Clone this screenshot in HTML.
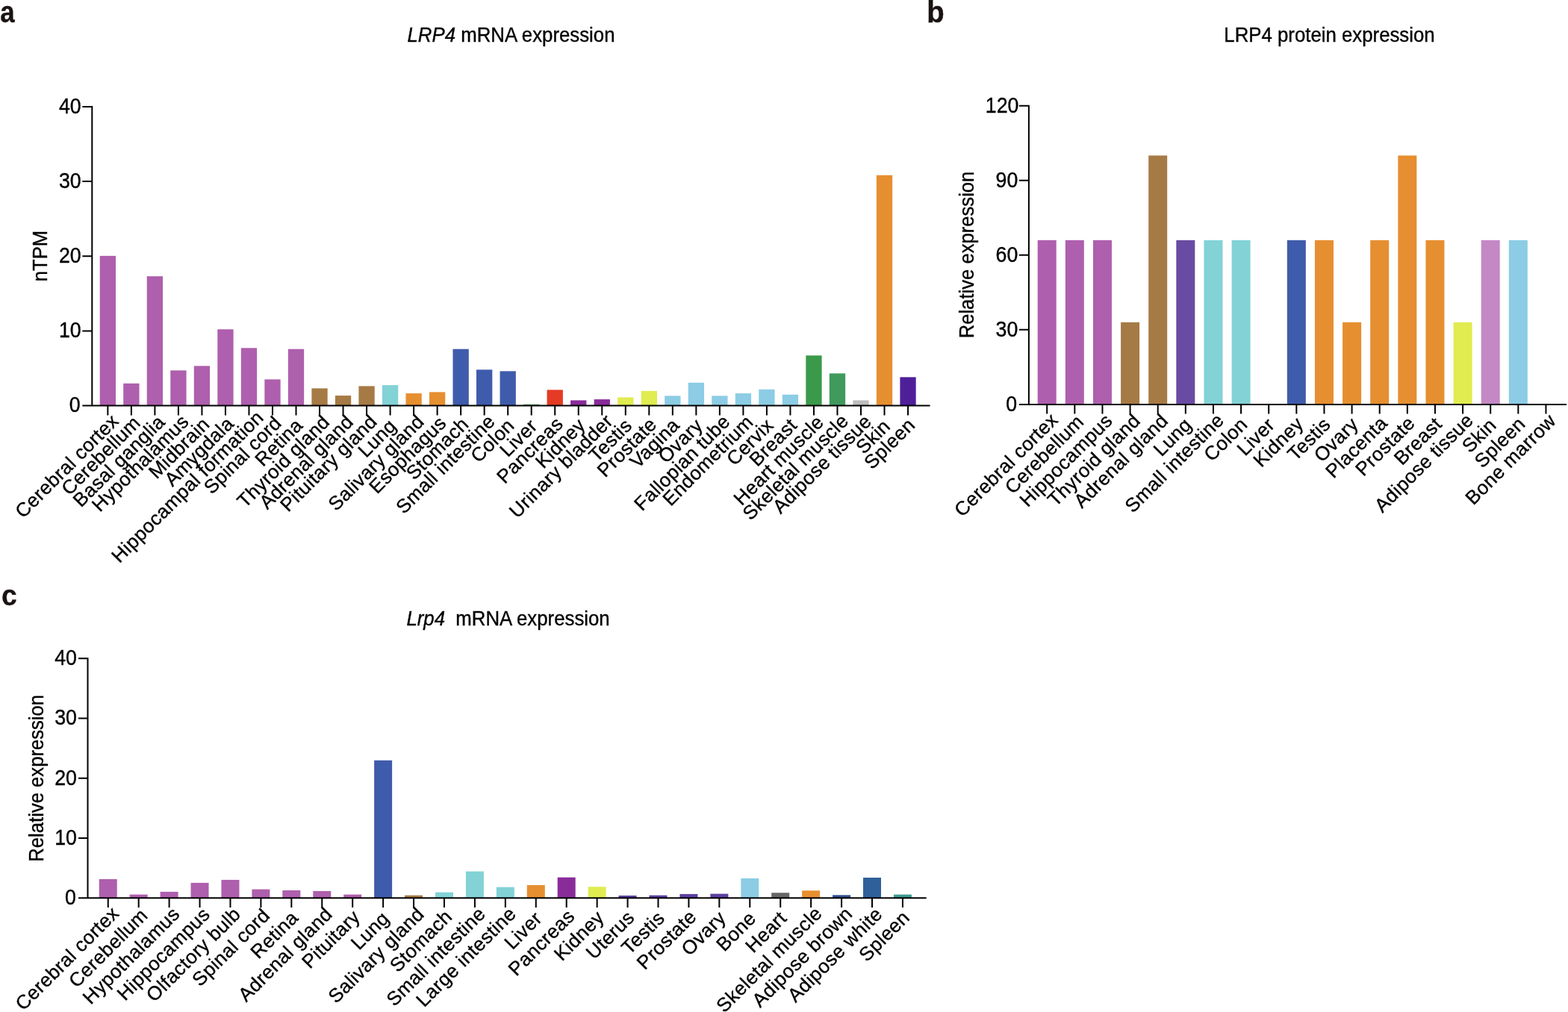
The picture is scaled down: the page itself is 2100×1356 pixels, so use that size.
<!DOCTYPE html>
<html lang="en">
<head>
<meta charset="utf-8">
<title>LRP4 expression</title>
<style>
html,body{margin:0;padding:0;background:#fff;}
body{width:2100px;height:1356px;overflow:hidden;}
svg{display:block;}
text{font-family:"Liberation Sans",sans-serif;font-size:25.8px;fill:#000;stroke:#000;stroke-width:0.35px;}
.xl{font-size:25.9px;letter-spacing:0.42px;}
.nl{font-size:26.7px;}
.yl{font-size:25.65px;}
.pl{font-weight:bold;font-size:34.9px;fill:#1a1311;stroke:#1a1311;stroke-width:0.3px;}
</style>
</head>
<body>
<svg width="2100" height="1356" viewBox="0 0 2100 1356">
<rect width="2100" height="1356" fill="#fff"/>
<text class="pl" transform="translate(0.2 30.1) scale(1 1.14)">a</text>
<text class="pl" transform="translate(1241.35 30.1) scale(1.1 1.16)">b</text>
<text class="pl" transform="translate(2.05 811.3) scale(1.065 1.126)">c</text>
<g>
<rect x="133.70" y="342.85" width="21.3" height="200.65" fill="#AE5FAD"/>
<rect x="165.22" y="513.76" width="21.3" height="29.74" fill="#AE5FAD"/>
<rect x="196.74" y="370.18" width="21.3" height="173.32" fill="#AE5FAD"/>
<rect x="228.26" y="496.34" width="21.3" height="47.16" fill="#AE5FAD"/>
<rect x="259.78" y="490.33" width="21.3" height="53.17" fill="#AE5FAD"/>
<rect x="291.30" y="441.27" width="21.3" height="102.23" fill="#AE5FAD"/>
<rect x="322.82" y="466.30" width="21.3" height="77.20" fill="#AE5FAD"/>
<rect x="354.34" y="508.36" width="21.3" height="35.14" fill="#AE5FAD"/>
<rect x="385.86" y="467.71" width="21.3" height="75.79" fill="#AE5FAD"/>
<rect x="417.38" y="520.37" width="21.3" height="23.13" fill="#A67A45"/>
<rect x="448.90" y="530.08" width="21.3" height="13.42" fill="#A67A45"/>
<rect x="480.42" y="517.37" width="21.3" height="26.13" fill="#A67A45"/>
<rect x="511.94" y="516.07" width="21.3" height="27.43" fill="#82D2D6"/>
<rect x="543.46" y="527.08" width="21.3" height="16.42" fill="#E68F30"/>
<rect x="574.98" y="525.38" width="21.3" height="18.12" fill="#E68F30"/>
<rect x="606.50" y="467.71" width="21.3" height="75.79" fill="#3F5BAB"/>
<rect x="638.02" y="495.34" width="21.3" height="48.16" fill="#3F5BAB"/>
<rect x="669.54" y="497.34" width="21.3" height="46.16" fill="#3F5BAB"/>
<rect x="701.06" y="541.80" width="21.3" height="1.70" fill="#3A9A4A"/>
<rect x="732.58" y="522.37" width="21.3" height="21.13" fill="#E53A24"/>
<rect x="764.10" y="536.39" width="21.3" height="7.11" fill="#8A2B9A"/>
<rect x="795.62" y="535.09" width="21.3" height="8.41" fill="#8A2B9A"/>
<rect x="827.14" y="532.39" width="21.3" height="11.11" fill="#E0EC50"/>
<rect x="858.66" y="523.78" width="21.3" height="19.72" fill="#E0EC50"/>
<rect x="890.18" y="530.38" width="21.3" height="13.12" fill="#8CCCE4"/>
<rect x="921.70" y="512.76" width="21.3" height="30.74" fill="#8CCCE4"/>
<rect x="953.22" y="530.38" width="21.3" height="13.12" fill="#8CCCE4"/>
<rect x="984.74" y="527.08" width="21.3" height="16.42" fill="#8CCCE4"/>
<rect x="1016.26" y="521.77" width="21.3" height="21.73" fill="#8CCCE4"/>
<rect x="1047.78" y="528.78" width="21.3" height="14.72" fill="#8CCCE4"/>
<rect x="1079.30" y="476.32" width="21.3" height="67.18" fill="#3A9A4A"/>
<rect x="1110.82" y="500.35" width="21.3" height="43.15" fill="#3F9A5C"/>
<rect x="1142.34" y="536.39" width="21.3" height="7.11" fill="#BDBDBD"/>
<rect x="1173.86" y="234.72" width="21.3" height="308.78" fill="#E68F30"/>
<rect x="1205.38" y="505.35" width="21.3" height="38.15" fill="#4F1F9A"/>
<path d="M123.30 142.00V543.50M110.35 543.50H1245.60M110.35 443.38H123.30M110.35 343.25H123.30M110.35 243.12H123.30M110.35 143.00H123.30M144.35 543.50V556.60M175.87 543.50V556.60M207.39 543.50V556.60M238.91 543.50V556.60M270.43 543.50V556.60M301.95 543.50V556.60M333.47 543.50V556.60M364.99 543.50V556.60M396.51 543.50V556.60M428.03 543.50V556.60M459.55 543.50V556.60M491.07 543.50V556.60M522.59 543.50V556.60M554.11 543.50V556.60M585.63 543.50V556.60M617.15 543.50V556.60M648.67 543.50V556.60M680.19 543.50V556.60M711.71 543.50V556.60M743.23 543.50V556.60M774.75 543.50V556.60M806.27 543.50V556.60M837.79 543.50V556.60M869.31 543.50V556.60M900.83 543.50V556.60M932.35 543.50V556.60M963.87 543.50V556.60M995.39 543.50V556.60M1026.91 543.50V556.60M1058.43 543.50V556.60M1089.95 543.50V556.60M1121.47 543.50V556.60M1152.99 543.50V556.60M1184.51 543.50V556.60M1216.03 543.50V556.60" fill="none" stroke="#000" stroke-width="2.0"/>
<text transform="translate(107.56 552.30) scale(1 1.07)" text-anchor="end" class="nl">0</text>
<text transform="translate(108.68 452.18) scale(1 1.07)" text-anchor="end" class="nl">10</text>
<text transform="translate(108.68 352.05) scale(1 1.07)" text-anchor="end" class="nl">20</text>
<text transform="translate(108.68 251.93) scale(1 1.07)" text-anchor="end" class="nl">30</text>
<text transform="translate(108.68 151.80) scale(1 1.07)" text-anchor="end" class="nl">40</text>
<text transform="translate(160.53 565.82) rotate(-45) scale(1 1.0)" text-anchor="end" class="xl">Cerebral cortex</text>
<text transform="translate(189.58 568.29) rotate(-45) scale(1 1.0)" text-anchor="end" class="xl">Cerebellum</text>
<text transform="translate(222.39 567.00) rotate(-45) scale(1 1.0)" text-anchor="end" class="xl">Basal ganglia</text>
<text transform="translate(254.42 566.49) rotate(-45) scale(1 1.0)" text-anchor="end" class="xl">Hypothalamus</text>
<text transform="translate(282.34 570.09) rotate(-45) scale(1 1.0)" text-anchor="end" class="xl">Midbrain</text>
<text transform="translate(314.70 569.25) rotate(-45) scale(1 1.0)" text-anchor="end" class="xl">Amygdala</text>
<text transform="translate(354.52 560.95) rotate(-45) scale(1 1.0)" text-anchor="end" class="xl">Hippocampal formation</text>
<text transform="translate(378.57 568.42) rotate(-45) scale(1 1.0)" text-anchor="end" class="xl">Spinal cord</text>
<text transform="translate(407.08 571.43) rotate(-45) scale(1 1.0)" text-anchor="end" class="xl">Retina</text>
<text transform="translate(443.10 566.93) rotate(-45) scale(1 1.0)" text-anchor="end" class="xl">Thyroid gland</text>
<text transform="translate(474.78 566.77) rotate(-45) scale(1 1.0)" text-anchor="end" class="xl">Adrenal gland</text>
<text transform="translate(506.57 566.50) rotate(-45) scale(1 1.0)" text-anchor="end" class="xl">Pituitary gland</text>
<text transform="translate(532.20 572.39) rotate(-45) scale(1 1.0)" text-anchor="end" class="xl">Lung</text>
<text transform="translate(569.51 566.60) rotate(-45) scale(1 1.0)" text-anchor="end" class="xl">Salivary gland</text>
<text transform="translate(599.17 568.46) rotate(-45) scale(1 1.0)" text-anchor="end" class="xl">Esophagus</text>
<text transform="translate(629.19 569.96) rotate(-45) scale(1 1.0)" text-anchor="end" class="xl">Stomach</text>
<text transform="translate(664.40 566.27) rotate(-45) scale(1 1.0)" text-anchor="end" class="xl">Small intestine</text>
<text transform="translate(690.35 571.84) rotate(-45) scale(1 1.0)" text-anchor="end" class="xl">Colon</text>
<text transform="translate(721.26 572.45) rotate(-45) scale(1 1.0)" text-anchor="end" class="xl">Liver</text>
<text transform="translate(755.67 569.56) rotate(-45) scale(1 1.0)" text-anchor="end" class="xl">Pancreas</text>
<text transform="translate(785.55 571.20) rotate(-45) scale(1 1.0)" text-anchor="end" class="xl">Kidney</text>
<text transform="translate(822.46 565.81) rotate(-45) scale(1 1.0)" text-anchor="end" class="xl">Urinary bladder</text>
<text transform="translate(847.90 571.89) rotate(-45) scale(1 1.0)" text-anchor="end" class="xl">Testis</text>
<text transform="translate(881.07 570.24) rotate(-45) scale(1 1.0)" text-anchor="end" class="xl">Prostate</text>
<text transform="translate(911.60 571.23) rotate(-45) scale(1 1.0)" text-anchor="end" class="xl">Vagina</text>
<text transform="translate(942.59 571.76) rotate(-45) scale(1 1.0)" text-anchor="end" class="xl">Ovary</text>
<text transform="translate(979.27 566.60) rotate(-45) scale(1 1.0)" text-anchor="end" class="xl">Fallopian tube</text>
<text transform="translate(1010.27 567.12) rotate(-45) scale(1 1.0)" text-anchor="end" class="xl">Endometrium</text>
<text transform="translate(1037.40 571.51) rotate(-45) scale(1 1.0)" text-anchor="end" class="xl">Cervix</text>
<text transform="translate(1069.00 571.43) rotate(-45) scale(1 1.0)" text-anchor="end" class="xl">Breast</text>
<text transform="translate(1104.77 567.18) rotate(-45) scale(1 1.0)" text-anchor="end" class="xl">Heart muscle</text>
<text transform="translate(1137.88 565.59) rotate(-45) scale(1 1.0)" text-anchor="end" class="xl">Skeletal muscle</text>
<text transform="translate(1168.70 566.29) rotate(-45) scale(1 1.0)" text-anchor="end" class="xl">Adipose tissue</text>
<text transform="translate(1193.74 572.77) rotate(-45) scale(1 1.0)" text-anchor="end" class="xl">Skin</text>
<text transform="translate(1226.90 571.13) rotate(-45) scale(1 1.0)" text-anchor="end" class="xl">Spleen</text>
<text transform="translate(63.2 343) rotate(-90) scale(1 1.075)" text-anchor="middle" class="yl">nTPM</text>
<text transform="translate(545.5 56.4) scale(1 1.05)" xml:space="preserve"><tspan font-style="italic">LRP4</tspan> mRNA expression</text>
</g>
<g>
<rect x="1389.70" y="321.79" width="25" height="220.11" fill="#AE5FAD"/>
<rect x="1426.83" y="321.79" width="25" height="220.11" fill="#AE5FAD"/>
<rect x="1463.95" y="321.79" width="25" height="220.11" fill="#AE5FAD"/>
<rect x="1501.08" y="431.84" width="25" height="110.05" fill="#A67A45"/>
<rect x="1538.20" y="208.40" width="25" height="333.50" fill="#A67A45"/>
<rect x="1575.33" y="321.79" width="25" height="220.11" fill="#6A4BA3"/>
<rect x="1612.45" y="321.79" width="25" height="220.11" fill="#82D2D6"/>
<rect x="1649.58" y="321.79" width="25" height="220.11" fill="#82D2D6"/>
<rect x="1723.83" y="321.79" width="25" height="220.11" fill="#3F5BAB"/>
<rect x="1760.95" y="321.79" width="25" height="220.11" fill="#E68F30"/>
<rect x="1798.08" y="431.84" width="25" height="110.05" fill="#E68F30"/>
<rect x="1835.20" y="321.79" width="25" height="220.11" fill="#E68F30"/>
<rect x="1872.33" y="208.40" width="25" height="333.50" fill="#E68F30"/>
<rect x="1909.45" y="321.79" width="25" height="220.11" fill="#E68F30"/>
<rect x="1946.58" y="431.84" width="25" height="110.05" fill="#E0EC50"/>
<rect x="1983.70" y="321.79" width="25" height="220.11" fill="#C488C4"/>
<rect x="2020.83" y="321.79" width="25" height="220.11" fill="#8CCCE4"/>
<path d="M1377.90 140.70V541.90M1364.90 541.90H2098.00M1364.90 441.85H1377.90M1364.90 341.80H1377.90M1364.90 241.75H1377.90M1364.90 141.70H1377.90M1402.20 541.90V554.55M1439.33 541.90V554.55M1476.45 541.90V554.55M1513.58 541.90V554.55M1550.70 541.90V554.55M1587.83 541.90V554.55M1624.95 541.90V554.55M1662.08 541.90V554.55M1699.20 541.90V554.55M1736.33 541.90V554.55M1773.45 541.90V554.55M1810.58 541.90V554.55M1847.70 541.90V554.55M1884.83 541.90V554.55M1921.95 541.90V554.55M1959.08 541.90V554.55M1996.20 541.90V554.55M2033.33 541.90V554.55M2070.45 541.90V554.55" fill="none" stroke="#000" stroke-width="2.0"/>
<text transform="translate(1362.16 550.90) scale(1 1.07)" text-anchor="end" class="nl">0</text>
<text transform="translate(1363.28 450.85) scale(1 1.07)" text-anchor="end" class="nl">30</text>
<text transform="translate(1363.28 350.80) scale(1 1.07)" text-anchor="end" class="nl">60</text>
<text transform="translate(1363.28 250.75) scale(1 1.07)" text-anchor="end" class="nl">90</text>
<text transform="translate(1364.39 150.70) scale(1 1.07)" text-anchor="end" class="nl">120</text>
<text transform="translate(1418.38 564.22) rotate(-45) scale(1 1.0)" text-anchor="end" class="xl">Cerebral cortex</text>
<text transform="translate(1453.03 566.69) rotate(-45) scale(1 1.0)" text-anchor="end" class="xl">Cerebellum</text>
<text transform="translate(1491.55 565.30) rotate(-45) scale(1 1.0)" text-anchor="end" class="xl">Hippocampus</text>
<text transform="translate(1528.65 565.33) rotate(-45) scale(1 1.0)" text-anchor="end" class="xl">Thyroid gland</text>
<text transform="translate(1565.93 565.17) rotate(-45) scale(1 1.0)" text-anchor="end" class="xl">Adrenal gland</text>
<text transform="translate(1597.43 570.79) rotate(-45) scale(1 1.0)" text-anchor="end" class="xl">Lung</text>
<text transform="translate(1640.68 564.67) rotate(-45) scale(1 1.0)" text-anchor="end" class="xl">Small intestine</text>
<text transform="translate(1672.24 570.24) rotate(-45) scale(1 1.0)" text-anchor="end" class="xl">Colon</text>
<text transform="translate(1708.75 570.85) rotate(-45) scale(1 1.0)" text-anchor="end" class="xl">Liver</text>
<text transform="translate(1747.12 569.60) rotate(-45) scale(1 1.0)" text-anchor="end" class="xl">Kidney</text>
<text transform="translate(1783.56 570.29) rotate(-45) scale(1 1.0)" text-anchor="end" class="xl">Testis</text>
<text transform="translate(1820.81 570.16) rotate(-45) scale(1 1.0)" text-anchor="end" class="xl">Ovary</text>
<text transform="translate(1859.69 568.41) rotate(-45) scale(1 1.0)" text-anchor="end" class="xl">Placenta</text>
<text transform="translate(1896.58 568.64) rotate(-45) scale(1 1.0)" text-anchor="end" class="xl">Prostate</text>
<text transform="translate(1932.52 569.83) rotate(-45) scale(1 1.0)" text-anchor="end" class="xl">Breast</text>
<text transform="translate(1974.78 564.69) rotate(-45) scale(1 1.0)" text-anchor="end" class="xl">Adipose tissue</text>
<text transform="translate(2005.43 571.17) rotate(-45) scale(1 1.0)" text-anchor="end" class="xl">Skin</text>
<text transform="translate(2044.20 569.53) rotate(-45) scale(1 1.0)" text-anchor="end" class="xl">Spleen</text>
<text transform="translate(2085.33 565.52) rotate(-45) scale(1 1.0)" text-anchor="end" class="xl">Bone marrow</text>
<text transform="translate(1303.8 341.5) rotate(-90) scale(1 1.05)" text-anchor="middle" class="yl">Relative expression</text>
<text transform="translate(1639.3 56.4) scale(1 1.05)" xml:space="preserve">LRP4 protein expression</text>
</g>
<g>
<rect x="132.75" y="1177.96" width="24" height="25.34" fill="#AE5FAD"/>
<rect x="173.68" y="1198.59" width="24" height="4.71" fill="#AE5FAD"/>
<rect x="214.61" y="1194.90" width="24" height="8.40" fill="#AE5FAD"/>
<rect x="255.54" y="1182.94" width="24" height="20.36" fill="#AE5FAD"/>
<rect x="296.47" y="1178.93" width="24" height="24.37" fill="#AE5FAD"/>
<rect x="337.40" y="1191.61" width="24" height="11.69" fill="#AE5FAD"/>
<rect x="378.33" y="1192.97" width="24" height="10.33" fill="#AE5FAD"/>
<rect x="419.26" y="1193.93" width="24" height="9.37" fill="#AE5FAD"/>
<rect x="460.19" y="1198.59" width="24" height="4.71" fill="#AE5FAD"/>
<rect x="501.12" y="1018.83" width="24" height="184.47" fill="#3F5BAB"/>
<rect x="542.05" y="1199.63" width="24" height="3.67" fill="#A67A45"/>
<rect x="582.98" y="1195.62" width="24" height="7.68" fill="#82D2D6"/>
<rect x="623.91" y="1167.61" width="24" height="35.69" fill="#82D2D6"/>
<rect x="664.84" y="1188.64" width="24" height="14.66" fill="#82D2D6"/>
<rect x="705.77" y="1185.91" width="24" height="17.39" fill="#E68F30"/>
<rect x="746.70" y="1175.64" width="24" height="27.66" fill="#8A2B9A"/>
<rect x="787.63" y="1188.24" width="24" height="15.06" fill="#E0EC50"/>
<rect x="828.56" y="1199.95" width="24" height="3.35" fill="#5B3FA0"/>
<rect x="869.49" y="1199.63" width="24" height="3.67" fill="#5B3FA0"/>
<rect x="910.42" y="1197.95" width="24" height="5.35" fill="#5B3FA0"/>
<rect x="951.35" y="1197.62" width="24" height="5.68" fill="#5B3FA0"/>
<rect x="992.28" y="1176.92" width="24" height="26.38" fill="#8CCCE4"/>
<rect x="1033.21" y="1196.26" width="24" height="7.04" fill="#666666"/>
<rect x="1074.14" y="1193.29" width="24" height="10.01" fill="#E68F30"/>
<rect x="1115.07" y="1199.31" width="24" height="3.99" fill="#2F4F8F"/>
<rect x="1156.00" y="1175.96" width="24" height="27.34" fill="#30609A"/>
<rect x="1196.93" y="1198.59" width="24" height="4.71" fill="#3F9A8F"/>
<path d="M117.50 881.30V1203.30M105.00 1203.30H1240.70M105.00 1123.05H117.50M105.00 1042.80H117.50M105.00 962.55H117.50M105.00 882.30H117.50M144.75 1203.30V1216.05M185.68 1203.30V1216.05M226.61 1203.30V1216.05M267.54 1203.30V1216.05M308.47 1203.30V1216.05M349.40 1203.30V1216.05M390.33 1203.30V1216.05M431.26 1203.30V1216.05M472.19 1203.30V1216.05M513.12 1203.30V1216.05M554.05 1203.30V1216.05M594.98 1203.30V1216.05M635.91 1203.30V1216.05M676.84 1203.30V1216.05M717.77 1203.30V1216.05M758.70 1203.30V1216.05M799.63 1203.30V1216.05M840.56 1203.30V1216.05M881.49 1203.30V1216.05M922.42 1203.30V1216.05M963.35 1203.30V1216.05M1004.28 1203.30V1216.05M1045.21 1203.30V1216.05M1086.14 1203.30V1216.05M1127.07 1203.30V1216.05M1168.00 1203.30V1216.05M1208.93 1203.30V1216.05" fill="none" stroke="#000" stroke-width="2.0"/>
<text transform="translate(101.76 1212.10) scale(1 1.07)" text-anchor="end" class="nl">0</text>
<text transform="translate(102.88 1131.85) scale(1 1.07)" text-anchor="end" class="nl">10</text>
<text transform="translate(102.88 1051.60) scale(1 1.07)" text-anchor="end" class="nl">20</text>
<text transform="translate(102.88 971.35) scale(1 1.07)" text-anchor="end" class="nl">30</text>
<text transform="translate(102.88 891.10) scale(1 1.07)" text-anchor="end" class="nl">40</text>
<text transform="translate(160.93 1225.62) rotate(-45) scale(1 1.0)" text-anchor="end" class="xl">Cerebral cortex</text>
<text transform="translate(199.39 1228.09) rotate(-45) scale(1 1.0)" text-anchor="end" class="xl">Cerebellum</text>
<text transform="translate(242.12 1226.29) rotate(-45) scale(1 1.0)" text-anchor="end" class="xl">Hypothalamus</text>
<text transform="translate(282.64 1226.70) rotate(-45) scale(1 1.0)" text-anchor="end" class="xl">Hippocampus</text>
<text transform="translate(323.72 1226.55) rotate(-45) scale(1 1.0)" text-anchor="end" class="xl">Olfactory bulb</text>
<text transform="translate(362.98 1228.22) rotate(-45) scale(1 1.0)" text-anchor="end" class="xl">Spinal cord</text>
<text transform="translate(400.90 1231.23) rotate(-45) scale(1 1.0)" text-anchor="end" class="xl">Retina</text>
<text transform="translate(446.49 1226.57) rotate(-45) scale(1 1.0)" text-anchor="end" class="xl">Adrenal gland</text>
<text transform="translate(483.82 1230.17) rotate(-45) scale(1 1.0)" text-anchor="end" class="xl">Pituitary</text>
<text transform="translate(522.73 1232.19) rotate(-45) scale(1 1.0)" text-anchor="end" class="xl">Lung</text>
<text transform="translate(569.45 1226.40) rotate(-45) scale(1 1.0)" text-anchor="end" class="xl">Salivary gland</text>
<text transform="translate(607.02 1229.76) rotate(-45) scale(1 1.0)" text-anchor="end" class="xl">Stomach</text>
<text transform="translate(651.64 1226.07) rotate(-45) scale(1 1.0)" text-anchor="end" class="xl">Small intestine</text>
<text transform="translate(692.65 1225.99) rotate(-45) scale(1 1.0)" text-anchor="end" class="xl">Large intestine</text>
<text transform="translate(727.32 1232.25) rotate(-45) scale(1 1.0)" text-anchor="end" class="xl">Liver</text>
<text transform="translate(771.14 1229.36) rotate(-45) scale(1 1.0)" text-anchor="end" class="xl">Pancreas</text>
<text transform="translate(810.43 1231.00) rotate(-45) scale(1 1.0)" text-anchor="end" class="xl">Kidney</text>
<text transform="translate(851.20 1231.16) rotate(-45) scale(1 1.0)" text-anchor="end" class="xl">Uterus</text>
<text transform="translate(891.60 1231.69) rotate(-45) scale(1 1.0)" text-anchor="end" class="xl">Testis</text>
<text transform="translate(934.18 1230.04) rotate(-45) scale(1 1.0)" text-anchor="end" class="xl">Prostate</text>
<text transform="translate(973.59 1231.56) rotate(-45) scale(1 1.0)" text-anchor="end" class="xl">Ovary</text>
<text transform="translate(1014.04 1232.04) rotate(-45) scale(1 1.0)" text-anchor="end" class="xl">Bone</text>
<text transform="translate(1055.15 1231.86) rotate(-45) scale(1 1.0)" text-anchor="end" class="xl">Heart</text>
<text transform="translate(1102.55 1225.39) rotate(-45) scale(1 1.0)" text-anchor="end" class="xl">Skeletal muscle</text>
<text transform="translate(1142.91 1225.96) rotate(-45) scale(1 1.0)" text-anchor="end" class="xl">Adipose brown</text>
<text transform="translate(1183.30 1226.50) rotate(-45) scale(1 1.0)" text-anchor="end" class="xl">Adipose white</text>
<text transform="translate(1219.80 1230.93) rotate(-45) scale(1 1.0)" text-anchor="end" class="xl">Spleen</text>
<text transform="translate(57.5 1042.8) rotate(-90) scale(1 1.05)" text-anchor="middle" class="yl">Relative expression</text>
<text transform="translate(544.4 838.4) scale(1 1.05)" xml:space="preserve"><tspan font-style="italic">Lrp4</tspan>  mRNA expression</text>
</g>
</svg>
</body>
</html>
